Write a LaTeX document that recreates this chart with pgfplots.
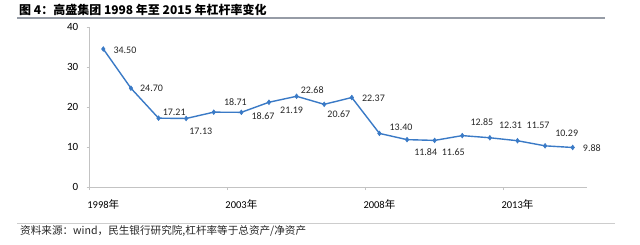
\documentclass[border=0pt]{standalone}
\usepackage{pgfplots}
\pgfplotsset{compat=1.18}
\usepackage{fontspec}
\setmainfont{Carlito}
\newfontfamily\cjk{Noto Sans CJK SC}
\definecolor{lineblue}{RGB}{58,122,198}
\definecolor{axgray}{RGB}{195,195,195}
\definecolor{rulegray}{RGB}{150,156,166}
\definecolor{footgray}{RGB}{205,205,205}
\begin{document}
\begin{tikzpicture}
\path[use as bounding box] (0pt,0pt) rectangle (640pt,244pt);
\draw[rulegray, line width=1.2pt] (17pt,226pt) -- (605pt,226pt);
\node[anchor=base west, inner sep=0pt, font=\cjk\bfseries\fontsize{12}{14}\selectfont] at (19pt,229pt) {图 4：高盛集团 1998 年至 2015 年杠杆率变化};
\draw[footgray, line width=0.8pt] (17pt,21pt) -- (615pt,21pt);
\node[anchor=base west, inner sep=0pt, font=\cjk\fontsize{10.6}{12}\selectfont, text=black!85] at (20pt,10pt) {资料来源：wind，民生银行研究院,杠杆率等于总资产/净资产};
\begin{axis}[
  at={(89.5pt,57pt)}, anchor=south west, scale only axis,
  width=497pt, height=160pt,
  xmin=-0.5, xmax=17.5, ymin=0, ymax=40,
  axis x line*=bottom, axis y line*=left,
  axis line style={axgray, line width=0.8pt},
  ytick={0,10,20,30,40},
  xtick={0,5,10,15},
  xticklabels={1998{\cjk 年},2003{\cjk 年},2008{\cjk 年},2013{\cjk 年}},
  major x tick style={draw=none},
  minor xtick={-0.5,4.5,9.5,14.5},
  tick align=outside,
  major tick length=3pt, minor tick length=3pt,
  tick style={axgray, line width=0.8pt},
  /pgf/number format/assume math mode=true,
  yticklabel style={font=\fontsize{11}{13}\selectfont, inner sep=0pt, anchor=east, xshift=-8pt},
  xticklabel style={font=\fontsize{10.5}{12}\selectfont, inner sep=0pt, anchor=north, yshift=-9pt},
  clip=false,
]
\addplot[lineblue, line width=1.4pt, mark=diamond*, mark size=2.4pt, mark options={lineblue, line width=0.5pt},
  point meta=y,
  nodes near coords={\pgfmathprintnumber[fixed,fixed zerofill,precision=2]{\pgfplotspointmeta}},
  visualization depends on={\thisrow{dx} \as \labdx},
  visualization depends on={\thisrow{dy} \as \labdy},
  every node near coord/.append style={anchor=west, inner sep=0pt, xshift=\labdx pt, yshift=\labdy pt, font=\fontsize{10}{12}\selectfont, text=black!85},
] table {
x y dx dy
0 34.50 10 -1
1 24.70 9 0
2 17.21 4 6
3 17.13 3 -13
4 18.71 10 10
5 18.67 10 -4
6 21.19 11 -8
7 22.68 4 6
8 20.67 3 -10
9 22.37 10 -1
10 13.40 10 6
11 11.84 7 -12
12 11.65 7 -12
13 12.85 8 13
14 12.31 9 12
15 11.57 9 15
16 10.29 10 13
17 9.88 10 -1
};
\end{axis}
\end{tikzpicture}
\end{document}
